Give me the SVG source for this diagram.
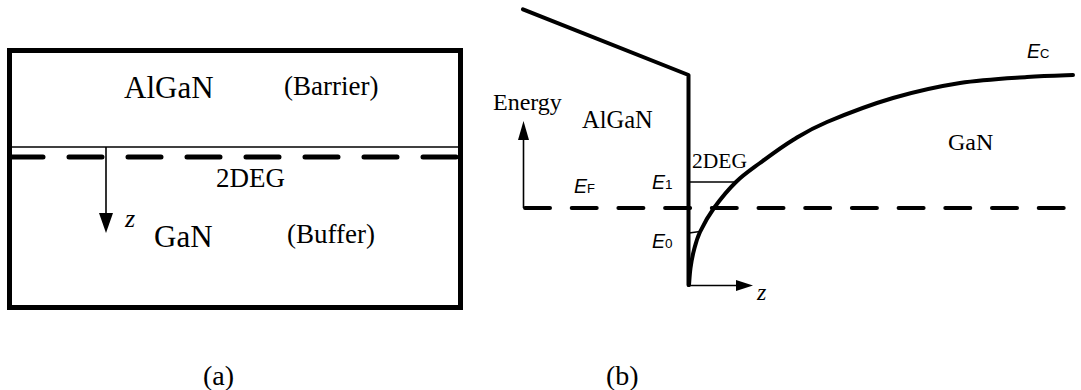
<svg xmlns="http://www.w3.org/2000/svg" width="1081" height="390" viewBox="0 0 1081 390">
<style>
.serif{font-family:"Liberation Serif","Times New Roman",serif;fill:#000}
.sans{font-family:"Liberation Sans",Arial,sans-serif;fill:#000;font-style:italic}
.thick{fill:none;stroke:#000;stroke-width:4;stroke-linecap:round;stroke-linejoin:round}
.thin{fill:none;stroke:#000;stroke-width:1.6}
.dash{fill:none;stroke:#000;stroke-linecap:round}
</style>
<rect width="1081" height="390" fill="#fff"/>
<g id="panel-a">
  <rect id="box" x="9.5" y="50.5" width="451" height="257" fill="none" stroke="#000" stroke-width="5"/>
  <line class="thin" x1="9.5" y1="147" x2="460.5" y2="147"/>
  <path class="dash" d="M10,157 H459" stroke-width="5" stroke-dasharray="33 26"/>
  <g id="z-arrow-a">
    <line class="thin" x1="106" y1="147" x2="106" y2="216"/>
    <polygon points="99,213 113,213 106,233" fill="#000"/>
  </g>
  <text class="serif" x="124" y="98" font-size="31">AlGaN</text>
  <text class="serif" x="284" y="95" font-size="27">(Barrier)</text>
  <text class="serif" x="216" y="187" font-size="27">2DEG</text>
  <text class="serif" x="125" y="227" font-size="26" font-style="italic">z</text>
  <text class="serif" x="154" y="247" font-size="31">GaN</text>
  <text class="serif" x="287" y="243" font-size="27">(Buffer)</text>
  <text class="serif" x="203" y="385" font-size="28">(a)</text>
</g>
<g id="panel-b">
  <g id="connectors">
    <path id="barrier" class="thick" d="M523,9.3 L688.5,75 L688.5,285"/>
    <path id="fermi" class="dash" d="M525,208 H1081" stroke-width="4" stroke-dasharray="25 21.7"/>
    <path id="ec" class="thick" d="M689,285 C689.25,282.2 689.7,273.8 690.5,268 C691.3,262.2 692.4,256 694,250 C695.6,244 696.7,239 700,232 C703.3,225 708,216.3 714,208 C720,199.7 728.3,189.5 736,182 C743.7,174.5 750.5,170 760,163 C769.5,156 781.8,146.8 793,140 C804.2,133.2 810.3,129 827,122 C843.7,115 870.8,104.5 893,98 C915.2,91.5 937.7,86.5 960,83 C982.3,79.5 1008.2,78.3 1027,77 C1045.8,75.7 1065.3,75.3 1073,75"/>
    <line id="e1" class="thin" x1="689" y1="182" x2="736" y2="182"/>
    <line id="e0" class="thin" x1="689" y1="233" x2="700" y2="231.5"/>
    <g id="energy-arrow">
      <line class="thin" x1="523.5" y1="208" x2="523.5" y2="138"/>
      <polygon points="518,140 529,140 523.5,121" fill="#000"/>
    </g>
    <g id="z-arrow-b">
      <line class="thin" x1="689" y1="285.5" x2="738" y2="285.5"/>
      <polygon points="736,280 736,291 753,285.5" fill="#000"/>
    </g>
  </g>
  <text class="serif" x="493" y="110" font-size="24">Energy</text>
  <text class="serif" x="582" y="128" font-size="24.5">AlGaN</text>
  <text class="serif" x="692" y="168" font-size="21.5">2DEG</text>
  <text class="serif" x="948" y="150" font-size="24">GaN</text>
  <text class="serif" x="757" y="300" font-size="24" font-style="italic">z</text>
  <text class="sans" x="574" y="193" font-size="19.5">E<tspan font-size="13" font-style="normal">F</tspan></text>
  <text class="sans" x="652" y="189" font-size="19.5">E<tspan font-size="13.5" font-style="normal">1</tspan></text>
  <text class="sans" x="652" y="248" font-size="19.5">E<tspan font-size="13.5" font-style="normal">0</tspan></text>
  <text class="sans" x="1027" y="58" font-size="19.5">E<tspan font-size="13" font-style="normal">C</tspan></text>
  <text class="serif" x="606" y="385" font-size="28">(b)</text>
</g>
</svg>
